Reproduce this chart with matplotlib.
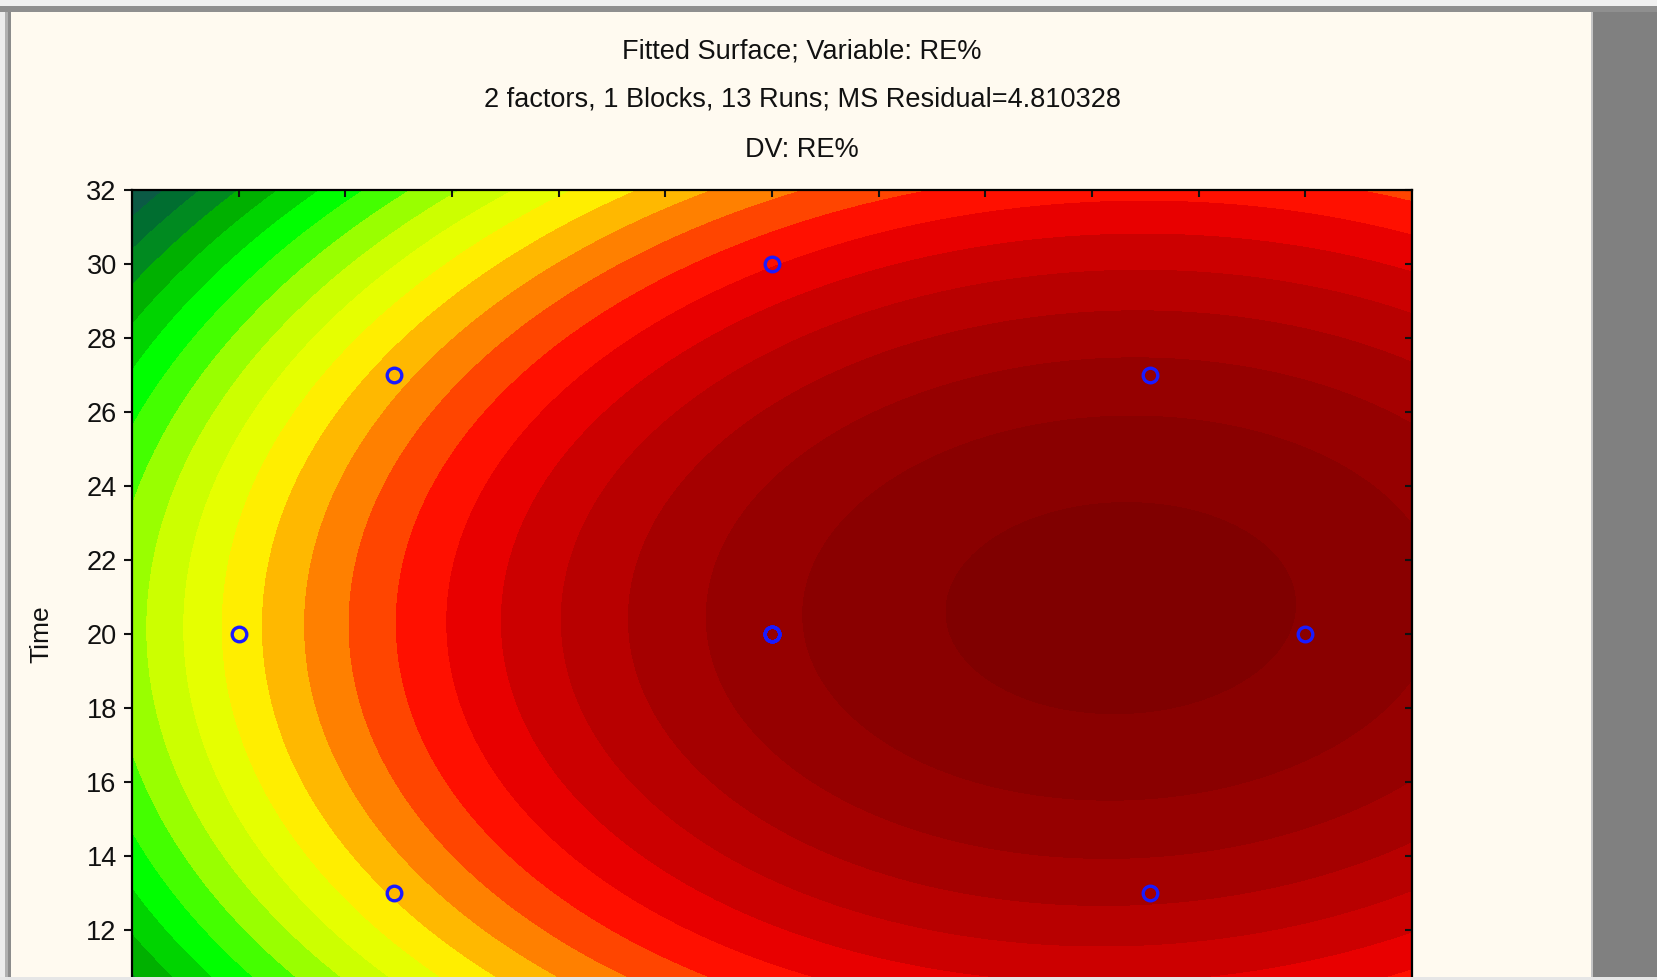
import matplotlib
matplotlib.use("Agg")
import matplotlib.pyplot as plt
from matplotlib.patches import Rectangle
import numpy as np

plt.rcParams['font.family'] = ['Liberation Sans', 'DejaVu Sans']

# design runs (central composite, 13 runs, 5 centre points)
x_runs = [3.46, 10.54, 3.46, 10.54, 2.0, 12.0, 7.0, 7.0, 7.0, 7.0, 7.0, 7.0, 7.0]
t_runs = [13, 13, 27, 27, 20, 20, 10, 30, 20, 20, 20, 20, 20]

# fitted quadratic  RE% = b0 + b1*x + b2*t + b11*x^2 + b22*t^2 + b12*x*t
b0, b1, b2 = 11.97, 6.359, 4.2748
b11, b22, b12 = -0.3226, -0.10646, 0.0129

levels = [0] + list(range(48, 90, 2)) + [100]
colors = ['#0b5a45', '#006e30', '#008a20', '#00b000', '#00d400', '#00ff00',
          '#44ff00', '#99ff00', '#ccff00', '#e6ff00', '#ffee00', '#ffb800',
          '#ff8000', '#ff4500', '#ff1000', '#e80000', '#cc0000', '#b80000',
          '#a50000', '#960000', '#8a0000', '#800000']

title_lines = ["Fitted Surface; Variable: RE%",
               "2 factors, 1 Blocks, 13 Runs; MS Residual=4.810328",
               "DV: RE%"]

W, H = 1658, 980
fig = plt.figure(figsize=(W / 100, H / 100), dpi=100)
fig.patch.set_facecolor('#fffaf0')


def px_rect(x0, y0, x1, y1, color, z=10):
    # rectangle in pixel coords, origin top left
    r = Rectangle((x0 / W, 1 - y1 / H), (x1 - x0) / W, (y1 - y0) / H,
                  transform=fig.transFigure, facecolor=color, edgecolor='none', zorder=z)
    fig.add_artist(r)


# plot area: top at 190px, left 132, right 1412, runs past the bottom edge
ax = fig.add_axes([132 / W, 1 - 1078 / H, 1280 / W, 888 / H])

xg = np.linspace(1, 13, 500)
tg = np.linspace(8, 32, 500)
X, T = np.meshgrid(xg, tg)
Z = b0 + b1 * X + b2 * T + b11 * X ** 2 + b22 * T ** 2 + b12 * X * T
ax.contourf(X, T, Z, levels=levels, colors=colors, antialiased=False)
ax.plot(x_runs, t_runs, 'o', mfc='none', mec='#1a1aff', ms=10.5, mew=2.4, clip_on=False)

ax.set_xlim(1, 13)
ax.set_ylim(8, 32)
ax.set_xticks(range(2, 13))
ax.set_yticks(range(8, 33, 2))
ax.tick_params(axis='y', labelsize=19.5, length=6, width=1.5,
               direction='out', pad=5, colors='#111111')
ax.tick_params(axis='x', labelsize=19.5, length=6, width=1.5, direction='out',
               colors='#111111')
ax.tick_params(top=True, right=True)
for t in ax.yaxis.get_major_ticks():
    t.tick2line.set_markersize(5)
    t.tick2line.set_marker(0)
for t in ax.xaxis.get_major_ticks():
    t.tick2line.set_markersize(5)
    t.tick2line.set_marker(3)
for s in ax.spines.values():
    s.set_linewidth(1.6)
    s.set_color('black')

ax.set_ylabel("Time", fontsize=19, color='#111111')
ax.yaxis.set_label_coords(-0.0617, 0.5)

for txt, yy in zip(title_lines, [52, 100, 150]):
    fig.text(802 / W, 1 - yy / H, txt, ha='center', va='center', fontsize=19.5, color='#111111')

# window frame around the chart
px_rect(0, 0, W, 6, '#f0f0f0')
px_rect(0, 6, W, 12, '#8f8f8f')
px_rect(0, 12, 5, H, '#ececec')
px_rect(5, 12, 8, H, '#b0b0b0')
px_rect(8, 12, 11, H, '#8c8c8c')
px_rect(1591, 12, 1593, H, '#c4c4c4')
px_rect(1593, 12, W, H, '#808080')
px_rect(0, 977, W, H, '#e6e6e6')

fig.savefig("out.png", dpi=100, facecolor=fig.get_facecolor())
